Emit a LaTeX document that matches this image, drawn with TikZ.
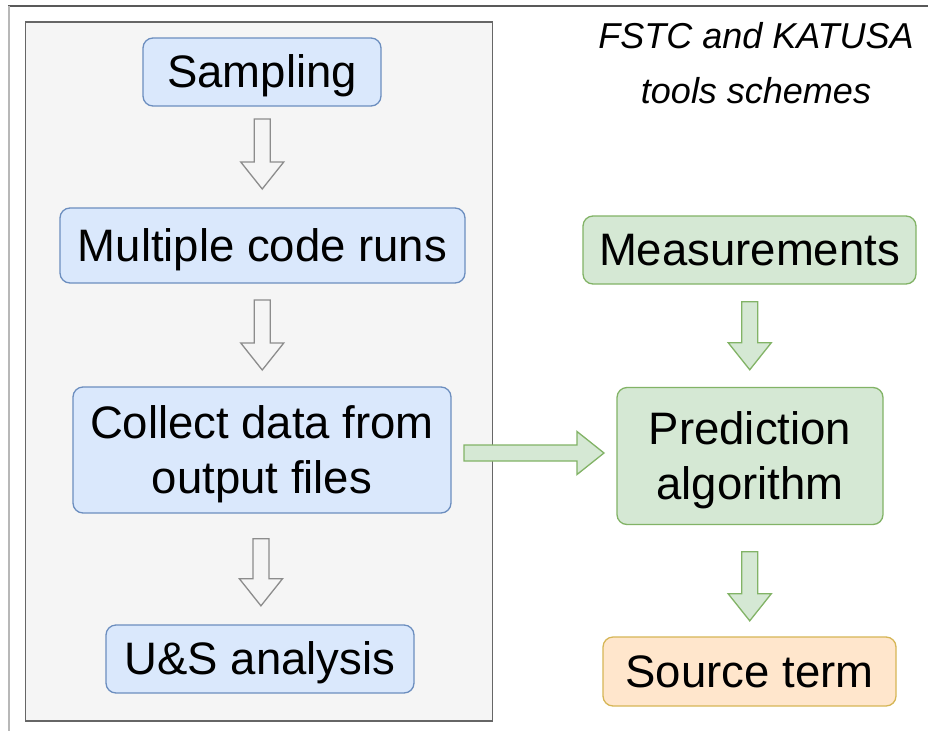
\documentclass[tikz,border=0pt]{standalone}
\usepackage{fontspec}
\setmainfont{Liberation Sans}
\usetikzlibrary{calc}

\definecolor{bluefill}{HTML}{DAE8FC}
\definecolor{bluedraw}{HTML}{6C8EBF}
\definecolor{greenfill}{HTML}{D5E8D4}
\definecolor{greendraw}{HTML}{82B366}
\definecolor{orangefill}{HTML}{FFE6CC}
\definecolor{orangedraw}{HTML}{D6B656}
\definecolor{panelfill}{HTML}{F5F5F5}
\definecolor{paneldraw}{HTML}{666666}
\definecolor{hollowdraw}{HTML}{8C8C8C}

% every text line gets the same ascent and descent, so lines sit evenly in their boxes
\newcommand\lnstrut{\rule[-9.6pt]{0pt}{50.8pt}}

\tikzset{
  box/.style={rounded corners=10pt, line width=1.3pt, align=center,
    inner sep=0pt, font=\fontsize{45.5}{55}\selectfont},
  bluebox/.style={box, fill=bluefill, draw=bluedraw},
  greenbox/.style={box, fill=greenfill, draw=greendraw},
  orangebox/.style={box, fill=orangefill, draw=orangedraw},
  hollowarrow/.style={fill=panelfill, draw=hollowdraw, line width=1.3pt, line join=miter},
  greenarrow/.style={fill=greenfill, draw=greendraw, line width=1.3pt, line join=miter},
  % block arrow pointing along +x, total length #1, centred on the pic origin
  pics/blockarr/.style={code={
    \draw[pic actions] (-#1/2,-8) -- (#1/2-27,-8) -- (#1/2-27,-21.5) -- (#1/2,0)
      -- (#1/2-27,21.5) -- (#1/2-27,8) -- (-#1/2,8) -- cycle;
  }},
}

\begin{document}
\begin{tikzpicture}[x=1pt, y=-1pt]
\useasboundingbox (0,0) rectangle (928,731);
\fill[white] (0,0) rectangle (928,731);

% outer frame lines
\coordinate (frameTL) at (8,5.5);
\coordinate (frameTR) at (928,5.5);
\coordinate (frameBL) at (9,731);
\draw[line width=2pt, draw=black!65] (frameTL) -- (frameTR);
\draw[line width=1.3pt, draw=black!28] ($(frameTL)+(1,0)$) -- (frameBL);

% grey panel holding the left-hand chain
\node[draw=paneldraw, fill=panelfill, line width=1.8pt, minimum width=467pt,
  minimum height=699pt, inner sep=0pt] (panel) at (259,371.5) {};

% title
\node[align=center, font=\itshape\fontsize{36}{55}\selectfont] (title) at (756,63)
  {FSTC and KATUSA\\tools schemes};

% left chain
\node[bluebox, minimum width=238pt, minimum height=68pt] (samp) at (262,72) {\lnstrut Sampling};
\node[bluebox, minimum width=405pt, minimum height=75pt] (runs) at (262.5,245.5) {\lnstrut Multiple code runs};
\node[bluebox, minimum width=378pt, minimum height=126pt] (collect) at (262,450)
  {\lnstrut Collect data from\\\lnstrut output files};
\node[bluebox, minimum width=308pt, minimum height=68pt] (us) at (260,659) {\lnstrut U\&S analysis};

% right chain
\node[greenbox, minimum width=333pt, minimum height=68pt] (meas) at (749.5,250) {\lnstrut Measurements};
\node[greenbox, minimum width=266pt, minimum height=137pt] (pred) at (750,456)
  {\lnstrut Prediction\\\lnstrut algorithm};
\node[orangebox, minimum width=293pt, minimum height=69pt] (src) at (749.5,671.5) {\lnstrut Source term};

% hollow arrows inside the panel
\pic[hollowarrow, rotate=-90] at ($(samp.south)!0.47!(runs.north)$) {blockarr=70};
\pic[hollowarrow, rotate=-90] at ($(runs.south)!0.5!(collect.north)$) {blockarr=70};
\pic[hollowarrow, rotate=-90] at ($(collect.south)!0.53!(us.north)$) {blockarr=67};

% green arrows
\pic[greenarrow, rotate=-90] at ($(meas.south)!0.5!(pred.north)$) {blockarr=68};
\pic[greenarrow, rotate=-90] at ($(pred.south)!0.55!(src.north)$) {blockarr=69};
\pic[greenarrow] at ($(collect.east)!0.5!(pred.west)$) {blockarr=140};
\end{tikzpicture}
\end{document}
